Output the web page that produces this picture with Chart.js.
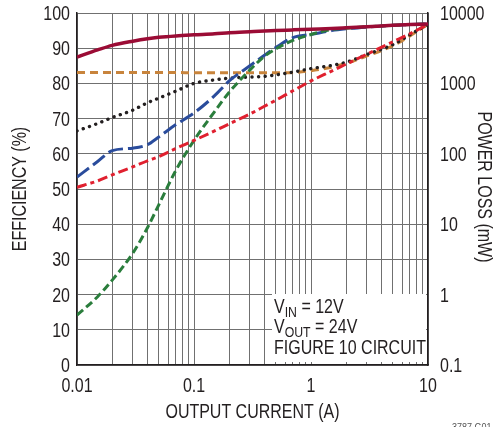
<!DOCTYPE html>
<html><head><meta charset="utf-8">
<script src="https://cdn.jsdelivr.net/npm/chart.js@4"></script>
<style>html,body{margin:0;padding:0;background:#fff;overflow:hidden}</style>
</head><body>
<canvas id="c" width="493" height="427" style="width:493px;height:427px;display:block"></canvas>
<script>
// Output current (A) sample points shared by all curves
const currents   = [0.01,0.015,0.02,0.03,0.04,0.05,0.07,0.1,0.15,0.2,0.3,0.4,0.5,0.7,1,1.5,2,3,5,7,10];
// Curves read on the left (0..100) scale
const seriesDarkRed = [87.5,89.5,90.8,92.0,92.7,93.1,93.5,93.8,94.1,94.4,94.7,94.9,95.0,95.2,95.4,95.6,95.8,96.1,96.5,96.7,96.9];
const seriesOrange  = [83.1,83.1,83.1,83.1,83.1,83.1,83.1,83.0,83.0,83.0,83.0,83.0,83.0,83.1,83.6,84.6,85.7,87.8,90.7,93.5,96.8];
const seriesBlack   = [66.5,68.6,70.3,72.4,74.5,75.8,77.8,80.0,81.0,81.5,81.8,82.0,82.4,83.2,84.2,85.1,86.0,88.2,91.0,93.8,96.8];
const seriesBlue    = [53.4,57.8,60.9,61.6,62.6,64.8,68.3,71.6,76.5,80.7,85.0,88.0,90.2,93.0,93.9,95.0,95.5,96.0,96.5,96.7,96.9];
const seriesRed     = [50.5,52.3,54.0,56.3,58.0,59.2,61.5,63.8,66.5,68.5,71.3,73.5,75.2,77.9,80.7,83.5,85.5,88.3,91.8,94.1,96.8];
const seriesGreen   = [14.2,19.4,24.1,31.8,39.0,45.5,55.3,63.8,72.0,77.5,83.8,87.7,89.8,92.2,93.9,95.3,95.7,96.1,96.5,96.7,96.9];
// Axis ticks
const xTicks = [0.01,0.02,0.03,0.04,0.05,0.06,0.07,0.08,0.09,0.1,0.2,0.3,0.4,0.5,0.6,0.7,0.8,0.9,1,2,3,4,5,6,7,8,9,10];
const xLabels = [0.01,0.1,1,10];
const leftTicks = [0,10,20,30,40,50,60,70,80,90,100];
const rightTicks = [0.1,1,10,100,1000,10000];
const rightLabels = ['0.1','1','10','100','1000','10000'];

const FONT = "'Liberation Sans',Arial,sans-serif";
const NARROW = 0.82;
const TXT = '#231f20';
const GRID = '#707070';

function pts(ys){ return currents.map((x,i)=>({x:x,y:ys[i]})); }

function ds(ys,color,dash,cap,w){
  return {data:pts(ys),borderColor:color,borderWidth:w||3,borderDash:dash,borderCapStyle:cap||'butt',
          pointRadius:0,fill:false,cubicInterpolationMode:'monotone',yAxisID:'y'};
}

// condensed text helper (the original uses a narrow sans face)
function txt(ctx, s, x, y, size, align, rot){
  ctx.save();
  ctx.translate(x, y);
  if (rot) ctx.rotate(rot);
  ctx.scale(NARROW, 1);
  ctx.font = size + 'px ' + FONT;
  ctx.textAlign = align || 'left';
  ctx.textBaseline = 'alphabetic';
  ctx.fillText(s, 0, 0);
  const w = ctx.measureText(s).width * NARROW;
  ctx.restore();
  return w;
}

const overlay = {
  id:'overlay',
  beforeDatasetsDraw(chart){
    const ctx = chart.ctx, a = chart.chartArea;
    ctx.save();
    ctx.fillStyle = '#fff';
    ctx.fillRect(272, 294, a.right - 2 - 272, 362 - 294);
    ctx.restore();
  },
  afterDraw(chart){
    const ctx = chart.ctx, a = chart.chartArea;
    const sx = chart.scales.x, sy = chart.scales.y, sy2 = chart.scales.y2;
    ctx.save();
    ctx.fillStyle = TXT;
    // tick labels
    const cap = 19.5 * 0.716 / 2;
    leftTicks.forEach(v => txt(ctx, String(v), 70, sy.getPixelForValue(v) + cap, 19.5, 'right'));
    rightTicks.forEach((v,i) => txt(ctx, rightLabels[i], 440, sy2.getPixelForValue(v) + cap, 19.5, 'left'));
    xLabels.forEach(v => txt(ctx, String(v), sx.getPixelForValue(v), 392, 19.5, 'center'));
    // annotation text
    function sub(x, y, main, s, rest){
      let w = txt(ctx, main, x, y, 19.5, 'left');
      w += txt(ctx, s, x + w, y + 4, 15, 'left');
      txt(ctx, rest, x + w, y, 19.5, 'left');
    }
    sub(274, 313, 'V', 'IN', ' = 12V');
    sub(274, 333, 'V', 'OUT', ' = 24V');
    txt(ctx, 'FIGURE 10 CIRCUIT', 274, 354, 19.5, 'left');
    // axis titles
    txt(ctx, 'OUTPUT CURRENT (A)', (a.left + a.right)/2, 418, 19.5, 'center');
    txt(ctx, 'EFFICIENCY (%)', 26, 189, 19.5, 'center', -Math.PI/2);
    txt(ctx, 'POWER LOSS (mW)', 478, 187, 19.5, 'center', Math.PI/2);
    // figure id (cut by the bottom edge as in the original)
    ctx.fillStyle = '#555';
    txt(ctx, '3787 G01', 452, 431, 11, 'left');
    ctx.restore();
  }
};

new Chart(document.getElementById('c'), {
  type:'line',
  data:{datasets:[
    ds(seriesDarkRed,'#9b0c35',[], 'butt', 3.5),
    ds(seriesRed,'#e0202f',[10,4,4,4]),
    ds(seriesGreen,'#2a7d3c',[8,4]),
    ds(seriesBlue,'#2a4c9c',[15,5]),
    ds(seriesBlack,'#231f20',[0.1,6.5],'round',3.4),
    ds(seriesOrange,'#c8843c',[8,5])
  ]},
  options:{
    responsive:false, animation:false, devicePixelRatio:1,
    layout:{padding:{top:13,left:0,right:0,bottom:0}},
    plugins:{legend:{display:false},tooltip:{enabled:false},title:{display:false}},
    scales:{
      x:{type:'logarithmic',min:0.01,max:10,
        afterBuildTicks:(s)=>{s.ticks = xTicks.map(v=>({value:v}));},
        afterFit:(s)=>{s.height = 62;},
        ticks:{display:false,autoSkip:false,maxRotation:0,minRotation:0},
        grid:{color:GRID,lineWidth:1,drawTicks:false},
        border:{display:true,color:'#231f20',width:1.5}},
      y:{type:'linear',position:'left',min:0,max:100,
        afterBuildTicks:(s)=>{s.ticks = leftTicks.map(v=>({value:v}));},
        afterFit:(s)=>{s.width = 77;},
        ticks:{display:false},
        grid:{color:GRID,lineWidth:1,drawTicks:false},
        border:{display:true,color:'#231f20',width:1.5}},
      y2:{type:'logarithmic',position:'right',min:0.1,max:10000,
        afterBuildTicks:(s)=>{s.ticks = rightTicks.map(v=>({value:v}));},
        afterFit:(s)=>{s.width = 65;},
        ticks:{display:false},
        grid:{display:false,drawTicks:false},
        border:{display:true,color:'#231f20',width:1.5}}
    }
  },
  plugins:[overlay]
});
</script>
</body></html>
